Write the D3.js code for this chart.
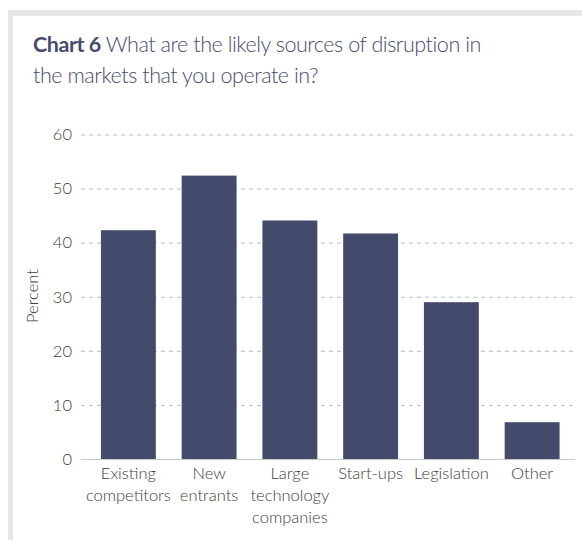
<!DOCTYPE html>
<html>
<head>
<meta charset="utf-8">
<script src="https://cdn.jsdelivr.net/npm/d3@7"></script>
<style>
  html, body { margin: 0; padding: 0; background: #fff; }
  svg { display: block; }
  text { font-family: "Source Sans Pro", Lato, "Open Sans", sans-serif; }
</style>
</head>
<body>
<svg id="chart" width="582" height="540"></svg>
<script>
// Survey responses: likely sources of disruption (percent of respondents)
const categories = [
  ["Existing", "competitors"],
  ["New", "entrants"],
  ["Large", "technology", "companies"],
  ["Start-ups"],
  ["Legislation"],
  ["Other"]
];
const values = [42.3, 52.4, 44.1, 41.7, 29.0, 6.8];
const yTicks = [0, 10, 20, 30, 40, 50, 60];

const svg = d3.select("#chart");
const W = 582, H = 540;
const barColor = "#434a6b";
const titleColor = "#474b6e";
const labelColor = "#3c3c3c";
const fontStack = "\"Source Sans Pro\", Lato, \"Open Sans\", sans-serif";

// Panel frame: grey strip on top and left edges
svg.append("rect").attr("x", 8).attr("y", 10).attr("width", W - 8).attr("height", H - 10).attr("fill", "#e6e7e9");
svg.append("rect").attr("x", 13).attr("y", 16).attr("width", W - 13).attr("height", H - 16).attr("fill", "#fff");

// Title
const title = svg.append("text").attr("x", 33).attr("y", 52)
  .attr("font-size", 21.5).attr("letter-spacing", -0.45).attr("fill", titleColor);
title.append("tspan").attr("font-weight", 700).text("Chart 6");
title.append("tspan").attr("font-weight", 300).text(" What are the likely sources of disruption in");
svg.append("text").attr("x", 33).attr("y", 83)
  .attr("font-size", 21.5).attr("letter-spacing", -0.45).attr("font-weight", 300).attr("fill", titleColor)
  .text("the markets that you operate in?");

// Scales
const x = d3.scaleBand()
  .domain(d3.range(categories.length))
  .range([88, 572.5])
  .paddingInner(0.32)
  .paddingOuter(0.16);
const y = d3.scaleLinear().domain([0, 60]).range([459, 134.5]);

// Dashed gridlines
const grid = svg.append("g");
grid.selectAll("line").data(yTicks.filter(d => d > 0)).join("line")
  .attr("x1", 81).attr("x2", 575)
  .attr("y1", d => y(d) + 0.5).attr("y2", d => y(d) + 0.5)
  .attr("stroke", "#bdbdbd").attr("stroke-width", 1)
  .attr("stroke-dasharray", "4,4");

// Y axis labels
const yAxis = svg.append("g").attr("transform", "translate(72,0)")
  .call(d3.axisLeft(y).tickValues(yTicks).tickSize(0).tickPadding(0));
yAxis.select(".domain").remove();
yAxis.selectAll("text")
  .attr("font-size", 16.5).attr("fill", labelColor)
  .attr("font-family", fontStack)
  .attr("font-weight", 300);

svg.append("text")
  .attr("transform", "translate(38,296) rotate(-90)")
  .attr("text-anchor", "middle")
  .attr("font-size", 16.5).attr("font-weight", 300).attr("fill", labelColor)
  .text("Percent");

// Bars
svg.append("g").selectAll("rect").data(values).join("rect")
  .attr("x", (d, i) => x(i))
  .attr("width", x.bandwidth())
  .attr("y", d => y(d))
  .attr("height", d => y(0) - y(d))
  .attr("fill", barColor);

// Baseline
svg.append("line")
  .attr("x1", 81).attr("x2", 575)
  .attr("y1", y(0) + 0.5).attr("y2", y(0) + 0.5)
  .attr("stroke", "#c8c8c8").attr("stroke-width", 1);

// Category labels
const xl = svg.append("g");
categories.forEach((lines, i) => {
  const t = xl.append("text")
    .attr("x", x(i) + x.bandwidth() / 2)
    .attr("y", 479)
    .attr("text-anchor", "middle")
    .attr("font-size", 16.5).attr("font-weight", 300).attr("fill", labelColor);
  lines.forEach((ln, j) => {
    t.append("tspan").attr("x", x(i) + x.bandwidth() / 2).attr("dy", j === 0 ? 0 : 22).text(ln);
  });
});
</script>
</body>
</html>
